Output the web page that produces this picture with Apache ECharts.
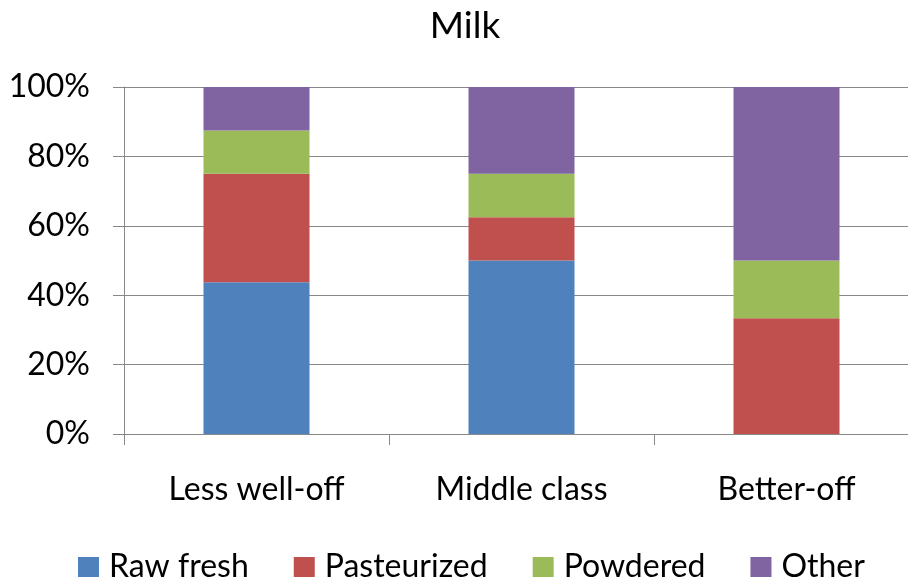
<!DOCTYPE html>
<html><head><meta charset="utf-8">
<script src="https://cdn.jsdelivr.net/npm/echarts@6/dist/echarts.min.js"></script>
<style>html,body{margin:0;padding:0;background:#fff;overflow:hidden}#c{width:908px;height:585px}</style>
</head><body><div id="c"></div>
<script>
const categories = ['Less well-off', 'Middle class', 'Better-off'];
const rawFresh = [43.75, 50, 0];
const pasteurized = [31.25, 12.5, 33.33];
const powdered = [12.5, 12.5, 16.67];
const other = [12.5, 25, 50];
const yTicks = [0, 20, 40, 60, 80, 100];
const colors = ['#4F81BD', '#C0504D', '#9BBB59', '#8064A2'];
const font = 'Lato, "Open Sans", sans-serif';

const chart = echarts.init(document.getElementById('c'));
function s(name, data, color) {
  return { name, type: 'bar', stack: 'a', data, barWidth: 106, itemStyle: { color }, emphasis: { disabled: true } };
}
chart.setOption({
  animation: false,
  title: { text: 'Milk', left: 460, top: 3, textAlign: 'center',
    textStyle: { fontFamily: font, fontSize: 37, fontWeight: 'normal', color: '#000' } },
  legend: { top: 546, left: 73, itemWidth: 21, itemHeight: 20, itemGap: 45, icon: 'rect',
    textStyle: { fontFamily: font, fontSize: 32, color: '#000', padding: [0, 0, 0, 5] } },
  grid: { left: 124, width: 795, top: 87, height: 347, outerBoundsMode: 'none', containLabel: false },
  xAxis: { type: 'category', data: categories,
    axisLine: { lineStyle: { color: '#888' } },
    axisTick: { show: true, length: 11, lineStyle: { color: '#888' } },
    axisLabel: { fontFamily: font, fontSize: 32, color: '#000', margin: 40 } },
  yAxis: { type: 'value', min: 0, max: 100, interval: 20,
    axisLine: { show: true, lineStyle: { color: '#888' } },
    axisTick: { show: true, length: 11, lineStyle: { color: '#888' } },
    splitLine: { lineStyle: { color: '#888' } },
    axisLabel: { fontFamily: font, fontSize: 32, color: '#000', margin: 34,
      formatter: v => yTicks.includes(v) ? v + '%' : '' } },
  series: [ s('Raw fresh', rawFresh, colors[0]), s('Pasteurized', pasteurized, colors[1]),
            s('Powdered', powdered, colors[2]), s('Other', other, colors[3]) ]
});
</script></body></html>
